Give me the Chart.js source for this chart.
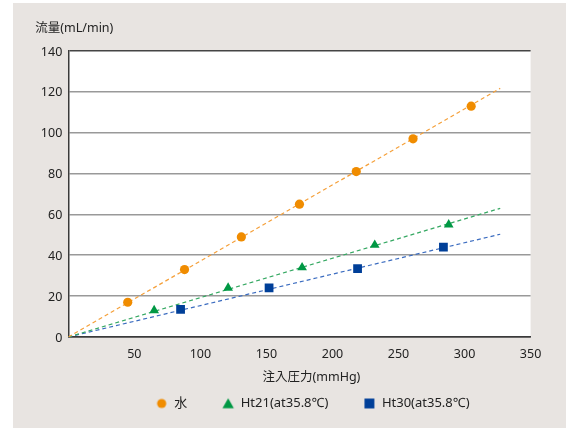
<!DOCTYPE html>
<html lang="ja">
<head>
<meta charset="utf-8">
<script src="https://cdn.jsdelivr.net/npm/chart.js@4.4.0/dist/chart.umd.min.js"></script>
<style>
  html, body { margin: 0; padding: 0; background: #fff; overflow: hidden; }
  #panel { position: absolute; left: 13px; top: 3px; width: 553px; height: 425px; background: #e8e4e1; }
</style>
</head>
<body>
<div id="panel"><canvas id="flowChart" width="553" height="425"></canvas></div>
<script>
// measured points
const waterPressure = [45, 88, 131, 175, 218, 261, 305];
const waterFlow = [17, 33, 49, 65, 81, 97, 113];
const ht21Pressure = [65, 121, 177, 232, 288];
const ht21Flow = [13, 24, 34, 45, 55];
const ht30Pressure = [85, 152, 219, 284];
const ht30Flow = [13.5, 24, 33.5, 44];

// dashed fit lines: start and end of each
const fitPressure = [0, 327];
const waterFit = [0, 121.7];
const ht21Fit = [0, 63];
const ht30Fit = [0, 50.3];

const seriesLabels = ['水', 'Ht21(at35.8℃)', 'Ht30(at35.8℃)'];
const xTickValues = [50, 100, 150, 200, 250, 300, 350];
const yTickValues = [0, 20, 40, 60, 80, 100, 120, 140];
const xTitle = '注入圧力(mmHg)';
const yTitle = '流量(mL/min)';

const FONT = '"Noto Sans", "Noto Sans CJK JP", sans-serif';
const TEXT = '#222';

function toPoints(xs, ys) {
    return xs.map((x, i) => ({ x: x, y: ys[i] }));
}

// legend symbols are a bit bigger than the plotted ones
function legendMarker(style, radius, color) {
    const c = document.createElement('canvas');
    c.width = 16;
    c.height = 16;
    const g = c.getContext('2d');
    g.fillStyle = color;
    const cy = style === 'triangle' ? 9.4 : 8;
    Chart.helpers.drawPoint(g, { pointStyle: style, radius: radius, borderWidth: 0 }, 8, cy);
    return c;
}

const plotBackground = {
    id: 'plotBackground',
    beforeDraw(chart) {
        const { ctx, chartArea: a } = chart;
        ctx.save();
        ctx.fillStyle = '#fff';
        ctx.fillRect(a.left, a.top, a.right - a.left, a.bottom - a.top);
        ctx.restore();
    }
};

const axisTitles = {
    id: 'axisTitles',
    afterDraw(chart) {
        const { ctx, chartArea: a } = chart;
        ctx.save();
        ctx.fillStyle = TEXT;
        ctx.font = '12.5px ' + FONT;
        ctx.textBaseline = 'middle';
        ctx.textAlign = 'left';
        ctx.fillText(yTitle, a.left - 33, a.top - 23);
        ctx.textAlign = 'center';
        ctx.fillText(xTitle, (a.left + a.right) / 2 + 12, a.bottom + 40);
        ctx.restore();
    }
};

const legendSizes = [4.6, 6.6, 7];

const ctx = document.getElementById('flowChart').getContext('2d');
const chart = new Chart(ctx, {
    type: 'scatter',
    data: {
        datasets: [{
            label: seriesLabels[0],
            data: toPoints(waterPressure, waterFlow),
            pointStyle: 'circle',
            pointRadius: 4.6,
            backgroundColor: '#f08c00',
            borderColor: '#f08c00',
            pointBorderWidth: 0,
            borderWidth: 0
        }, {
            label: seriesLabels[1],
            data: toPoints(ht21Pressure, ht21Flow),
            pointStyle: 'triangle',
            pointRadius: 5.6,
            backgroundColor: '#009844',
            borderColor: '#009844',
            pointBorderWidth: 0,
            borderWidth: 0
        }, {
            label: seriesLabels[2],
            data: toPoints(ht30Pressure, ht30Flow),
            pointStyle: 'rect',
            pointRadius: 6.2,
            backgroundColor: '#003f98',
            borderColor: '#003f98',
            pointBorderWidth: 0,
            borderWidth: 0
        }, {
            label: 'fit-water',
            data: toPoints(fitPressure, waterFit),
            showLine: true,
            pointRadius: 0,
            borderColor: '#f5a03a',
            borderWidth: 1.2,
            borderDash: [4, 3]
        }, {
            label: 'fit-ht21',
            data: toPoints(fitPressure, ht21Fit),
            showLine: true,
            pointRadius: 0,
            borderColor: '#35a862',
            borderWidth: 1.2,
            borderDash: [4, 3]
        }, {
            label: 'fit-ht30',
            data: toPoints(fitPressure, ht30Fit),
            showLine: true,
            pointRadius: 0,
            borderColor: '#3b6cc0',
            borderWidth: 1.2,
            borderDash: [4, 3]
        }]
    },
    options: {
        responsive: false,
        animation: false,
        layout: { padding: { top: 48, right: 35.4, bottom: 8, left: 0 } },
        scales: {
            x: {
                type: 'linear',
                min: 0,
                max: 350,
                afterBuildTicks: s => { s.ticks = xTickValues.map(v => ({ value: v })); },
                afterFit: s => { s.height = 25; },
                grid: { display: false },
                border: { display: true, color: '#3a3a3a', width: 1.5 },
                ticks: { color: TEXT, padding: 2, font: { family: FONT, size: 12.5 } }
            },
            y: {
                type: 'linear',
                min: 0,
                max: 140,
                afterBuildTicks: s => { s.ticks = yTickValues.map(v => ({ value: v })); },
                afterFit: s => { s.width = 55.3; },
                grid: {
                    drawTicks: false,
                    lineWidth: 1.6,
                    color: c => (c.tick && (c.tick.value === 140 || c.tick.value === 0)) ? '#444' : '#999'
                },
                border: { display: true, color: '#3a3a3a', width: 1.5 },
                ticks: { color: TEXT, padding: 6, labelOffset: 1, font: { family: FONT, size: 12.5 } }
            }
        },
        plugins: {
            legend: {
                position: 'bottom',
                fullSize: false,
                align: 'end',
                labels: {
                    usePointStyle: true,
                    boxWidth: 12,
                    boxHeight: 7,
                    padding: 35,
                    color: TEXT,
                    font: { family: FONT, size: 13 },
                    generateLabels(c) {
                        const items = Chart.defaults.plugins.legend.labels.generateLabels(c)
                            .filter(item => item.datasetIndex < seriesLabels.length);
                        items.forEach(item => {
                            const ds = c.data.datasets[item.datasetIndex];
                            item.pointStyle = legendMarker(ds.pointStyle, legendSizes[item.datasetIndex], ds.backgroundColor);
                        });
                        items[items.length - 1].text += '\u2003\u2003';
                        return items;
                    }
                }
            },
            tooltip: { enabled: false }
        }
    },
    plugins: [plotBackground, axisTitles]
});
</script>
</body>
</html>
